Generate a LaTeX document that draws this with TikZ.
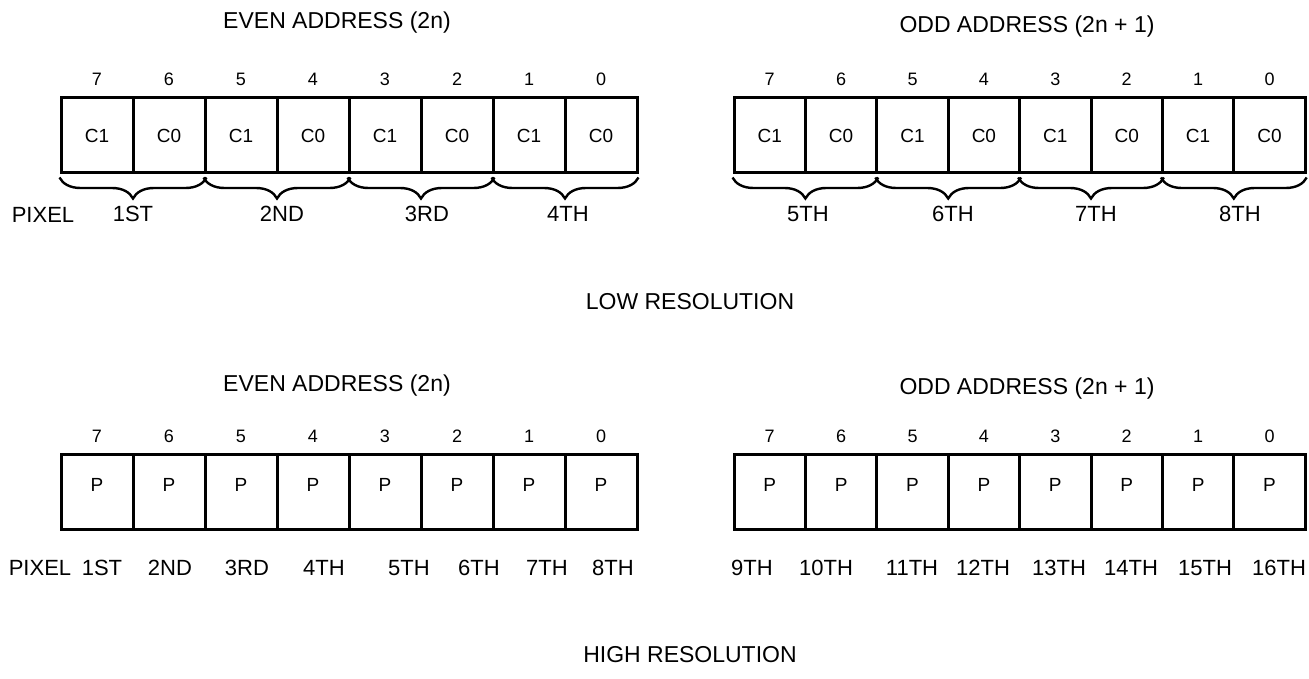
\documentclass[tikz,border=0pt]{standalone}
\usepackage{fontspec}
\setmainfont{Liberation Sans}
\usetikzlibrary{decorations.pathreplacing}
\tikzset{
  cell/.style  = {rectangle, draw=black, line width=3pt, fill=white,
                  minimum height=75pt, inner sep=0pt,
                  font=\fontsize{19}{22}\selectfont},
  pcell/.style = {cell, text depth=14pt},
  bitno/.style = {font=\fontsize{18}{21}\selectfont, inner sep=1pt},
  pix/.style   = {font=\fontsize{22}{26}\selectfont, inner sep=1pt},
  ttl/.style   = {font=\fontsize{23}{27}\selectfont, inner sep=1pt},
  brc/.style   = {decorate, decoration={brace, mirror, amplitude=21pt},
                  line width=2.4pt},
}

\begin{document}
\begin{tikzpicture}[x=1pt,y=-1pt]
  \useasboundingbox (0,0) rectangle (1309,679);
  % low resolution: two bits per pixel
  \node[ttl] (lo-even) at (337,23) {EVEN ADDRESS (2n)};
  \node[ttl] (lo-odd) at (1027,27) {ODD ADDRESS (2n + 1)};
  \foreach \b [count=\i from 0] in {7,6,...,0}{
    \node[cell, minimum width=72pt] (lo-e\b) at ({61+72*(\i+0.5)},135.5)
      {\ifodd\b\relax C1\else C0\fi};
    \node[bitno] (lo-eb\b) at ({61+72*(\i+0.5)},79) {\b};
    \node[cell, minimum width=71.4pt] (lo-o\b) at ({734+71.4*(\i+0.5)},135.5)
      {\ifodd\b\relax C1\else C0\fi};
    \node[bitno] (lo-ob\b) at ({734+71.4*(\i+0.5)},79) {\b};
  }
  \foreach \l/\r in {7/6,5/4,3/2,1/0}{
    \draw[brc] ([yshift=-3pt]lo-e\l.south west) -- ([yshift=-3pt]lo-e\r.south east);
    \draw[brc] ([yshift=-3pt]lo-o\l.south west) -- ([yshift=-3pt]lo-o\r.south east);
  }
  \node[pix] (lo-pixel) at (43,215) {PIXEL};
  \foreach \t/\x in {1ST/133,2ND/282,3RD/427,4TH/568,
                     5TH/808,6TH/953,7TH/1096,8TH/1240}
    \node[pix] (lo-p\t) at (\x,214) {\t};
  \node[ttl] (lo-res) at (690,302) {LOW RESOLUTION};

  % high resolution: one bit per pixel
  \node[ttl] (hi-even) at (337,386) {EVEN ADDRESS (2n)};
  \node[ttl] (hi-odd) at (1027,389) {ODD ADDRESS (2n + 1)};
  \foreach \b [count=\i from 0] in {7,6,...,0}{
    \node[pcell, minimum width=72pt] (hi-e\b) at ({61+72*(\i+0.5)},491.5) {P};
    \node[bitno] (hi-eb\b) at ({61+72*(\i+0.5)},436) {\b};
    \node[pcell, minimum width=71.4pt] (hi-o\b) at ({734+71.4*(\i+0.5)},491.5) {P};
    \node[bitno] (hi-ob\b) at ({734+71.4*(\i+0.5)},436) {\b};
  }
  \node[pix] (hi-pixel) at (40,568) {PIXEL};
  \foreach \t/\x in {1ST/102,2ND/170,3RD/247,4TH/324,5TH/409,6TH/479,
                     7TH/547,8TH/613,9TH/752,10TH/826,11TH/912,12TH/983,
                     13TH/1059,14TH/1131,15TH/1205,16TH/1279}
    \node[pix] (hi-p\t) at (\x,568) {\t};
  \node[ttl] (hi-res) at (690,655) {HIGH RESOLUTION};
\end{tikzpicture}
\end{document}
